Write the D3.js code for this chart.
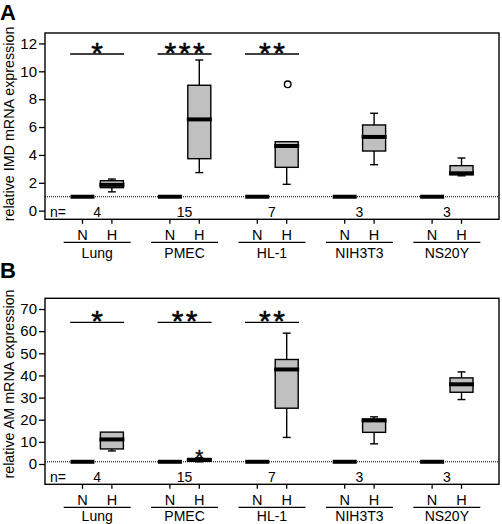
<!DOCTYPE html>
<html>
<head>
<meta charset="utf-8">
<script src="https://cdn.jsdelivr.net/npm/d3@7"></script>
<style>
  html, body { margin: 0; padding: 0; background: #fff; }
  svg { display: block; font-family: "Liberation Sans", Arial, sans-serif; }
</style>
</head>
<body>
<svg id="chart" width="502" height="524"></svg>
<script>
// ---------------- DATA ----------------
const groups = ["Lung", "PMEC", "HL-1", "NIH3T3", "NS20Y"];
const conditions = ["N", "H"];
const nCounts = [4, 15, 7, 3, 3];

const yTicksA = [0, 2, 4, 6, 8, 10, 12];
const yTicksB = [0, 10, 20, 30, 40, 50, 60, 70];

// Normoxia (N) values normalised to 1
const imdN = [1, 1, 1, 1, 1];
const amN = [1, 1, 1, 1, 1];

// Hypoxia (H) box statistics: [min, q1, median, q3, max]
const imdH = [
  [1.35, 1.65, 1.85, 2.15, 2.27],
  [2.73, 3.73, 6.55, 9.0, 10.81],
  [1.89, 3.11, 4.64, 4.95, 4.95],
  [3.3, 4.28, 5.29, 6.15, 6.99],
  [2.5, 2.58, 2.68, 3.23, 3.78]
];
const amH = [
  [5.9, 6.8, 11.1, 14.4, 14.4],
  [1.0, 1.2, 1.8, 2.5, 2.8],
  [12.0, 25.2, 42.7, 47.2, 59.1],
  [9.1, 14.3, 19.7, 20.3, 21.3],
  [29.1, 32.4, 36.0, 38.9, 41.6]
];

// Outliers (circles) and extremes (asterisks)
const imdOutliers = [[], [], [9.07], [], []];
const imdExtremes = [[], [], [], [], []];
const amOutliers = [[], [], [], [], []];
const amExtremes = [[], [5.0], [], [], []];

// Significance marks
const imdSig = ["*", "***", "**", "", ""];
const amSig = ["*", "**", "**", "", ""];

const reference = 1;

// ---------------- LAYOUT ----------------
const svg = d3.select("#chart");
const left = 45, right = 499;

const x = d3.scalePoint().domain(groups).range([left, right]).padding(0.597);
const xSub = d3.scalePoint().domain(conditions).range([-14.7, 14.7]);

const panels = [
  { letter: "A", letterY: 20, label: "relative IMD mRNA expression", labelY: 124,
    top: 33, bottom: 219.3, domain: [-0.62, 12.75], ticks: yTicksA, grpOff: 38.5,
    nVals: imdN, hStats: imdH, outliers: imdOutliers, extremes: imdExtremes, sig: imdSig, sigY: 54 },
  { letter: "B", letterY: 278, label: "relative AM mRNA expression", labelY: 384,
    top: 298.3, bottom: 484.3, domain: [-9.17, 74.84], ticks: yTicksB, grpOff: 36.2,
    nVals: amN, hStats: amH, outliers: amOutliers, extremes: amExtremes, sig: amSig, sigY: 322.3 }
];

const boxW = 23;

panels.forEach(p => {
  const g = svg.append("g");
  const y = d3.scaleLinear().domain(p.domain).range([p.bottom, p.top]);

  // panel letter
  g.append("text").attr("x", 0).attr("y", p.letterY)
    .attr("font-size", 22).attr("font-weight", "bold").text(p.letter);

  // y label
  g.append("text")
    .attr("transform", `translate(14,${p.labelY}) rotate(-90)`)
    .attr("text-anchor", "middle").attr("font-size", 14.3)
    .text(p.label);

  // dotted reference line
  g.append("line")
    .attr("x1", left).attr("x2", right)
    .attr("y1", y(reference)).attr("y2", y(reference))
    .attr("stroke", "#000").attr("stroke-width", 1).attr("stroke-dasharray", "1,1");

  // y axis
  const axis = d3.axisLeft(y).tickValues(p.ticks).tickSize(6).tickPadding(2).tickFormat(d3.format("d"));
  const ag = g.append("g").attr("transform", `translate(${left},0)`).call(axis);
  ag.select(".domain").remove();
  ag.selectAll(".tick line").attr("stroke", "#000").attr("stroke-width", 1.3);
  ag.selectAll(".tick text").attr("font-size", 15).attr("fill", "#000")
    .attr("font-family", "Liberation Sans, Arial, sans-serif");

  // frame
  g.append("rect").attr("x", left).attr("y", p.top)
    .attr("width", right - left).attr("height", p.bottom - p.top)
    .attr("fill", "none").attr("stroke", "#000").attr("stroke-width", 1.4);

  groups.forEach((grp, i) => {
    const cx = x(grp);
    const xn = cx + xSub("N");
    const xh = cx + xSub("H");

    // N: thick line at value
    g.append("line").attr("x1", xn - 12).attr("x2", xn + 12)
      .attr("y1", y(p.nVals[i])).attr("y2", y(p.nVals[i]))
      .attr("stroke", "#000").attr("stroke-width", 4);

    // H: box plot
    const [mn, q1, md, q3, mx] = p.hStats[i];
    const wl = g.append("g").attr("stroke", "#000").attr("stroke-width", 1.4);
    if (mx > q3) {
      wl.append("line").attr("x1", xh).attr("x2", xh).attr("y1", y(q3)).attr("y2", y(mx));
      wl.append("line").attr("x1", xh - 4).attr("x2", xh + 4).attr("y1", y(mx)).attr("y2", y(mx));
    }
    if (mn < q1) {
      wl.append("line").attr("x1", xh).attr("x2", xh).attr("y1", y(q1)).attr("y2", y(mn));
      wl.append("line").attr("x1", xh - 4).attr("x2", xh + 4).attr("y1", y(mn)).attr("y2", y(mn));
    }
    g.append("rect").attr("x", xh - boxW / 2).attr("y", y(q3))
      .attr("width", boxW).attr("height", Math.max(0.5, y(q1) - y(q3)))
      .attr("fill", "#c0c0c0").attr("stroke", "#000").attr("stroke-width", 1.4);
    g.append("line").attr("x1", xh - boxW / 2 - 1).attr("x2", xh + boxW / 2 + 1)
      .attr("y1", y(md)).attr("y2", y(md))
      .attr("stroke", "#000").attr("stroke-width", 4);

    p.outliers[i].forEach(v => {
      g.append("circle").attr("cx", xh + 1).attr("cy", y(v)).attr("r", 3.3)
        .attr("fill", "#fff").attr("stroke", "#000").attr("stroke-width", 1.4);
    });
    p.extremes[i].forEach(v => {
      g.append("text").attr("x", xh).attr("y", y(v) + 11.5)
        .attr("text-anchor", "middle").attr("font-size", 21)
        .attr("stroke", "#000").attr("stroke-width", 0.3).text("*");
    });

    // significance
    if (p.sig[i]) {
      g.append("line").attr("x1", cx - 27).attr("x2", cx + 27)
        .attr("y1", p.sigY).attr("y2", p.sigY)
        .attr("stroke", "#000").attr("stroke-width", 1.3);
      const k = p.sig[i].length;
      for (let s = 0; s < k; s++) {
        g.append("text").attr("x", cx + (s - (k - 1) / 2) * 14.2).attr("y", p.sigY + 9)
          .attr("text-anchor", "middle").attr("font-size", 30)
          .attr("stroke", "#000").attr("stroke-width", 0.5).text("*");
      }
    }

    // n counts
    g.append("text").attr("x", cx).attr("y", p.bottom - 2)
      .attr("text-anchor", "middle").attr("font-size", 14).text(nCounts[i]);

    // x ticks and N/H labels
    conditions.forEach(c => {
      const xx = cx + xSub(c);
      g.append("line").attr("x1", xx).attr("x2", xx)
        .attr("y1", p.bottom).attr("y2", p.bottom + 4.5)
        .attr("stroke", "#000").attr("stroke-width", 1.3);
      g.append("text").attr("x", xx).attr("y", p.bottom + 20.5)
        .attr("text-anchor", "middle").attr("font-size", 14.5).text(c);
    });
    // group underline
    g.append("line").attr("x1", cx - 33.5).attr("x2", cx + 33.5)
      .attr("y1", p.bottom + 23).attr("y2", p.bottom + 23)
      .attr("stroke", "#000").attr("stroke-width", 1.3);
    g.append("text").attr("x", cx).attr("y", p.bottom + p.grpOff)
      .attr("text-anchor", "middle").attr("font-size", 14).text(grp);
  });

  g.append("text").attr("x", 50).attr("y", p.bottom - 2)
    .attr("font-size", 14).text("n=");
});
</script>
</body>
</html>
